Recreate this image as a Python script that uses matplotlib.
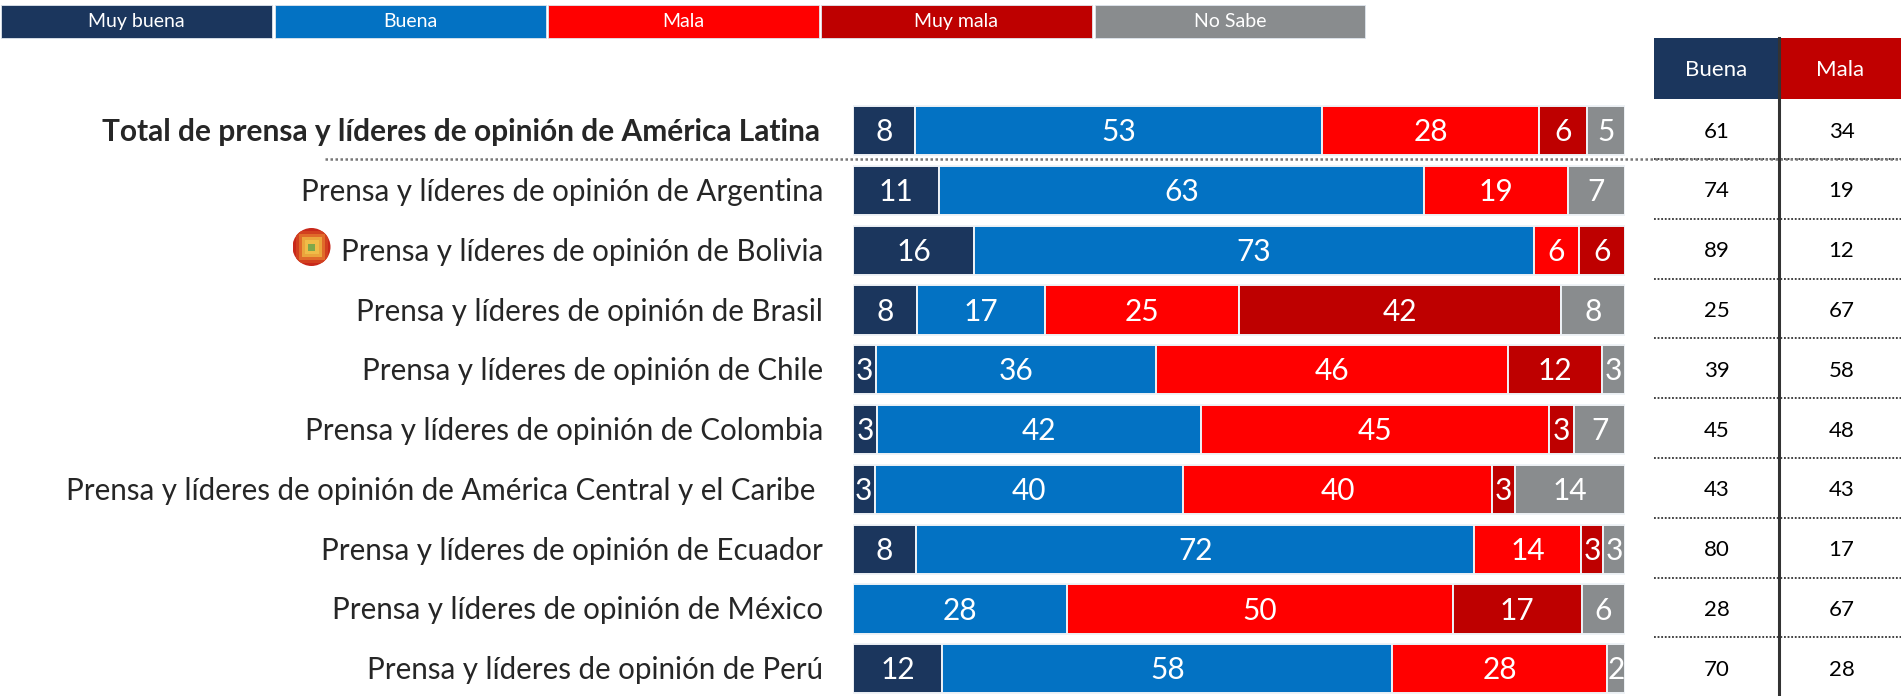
import matplotlib
matplotlib.use("Agg")
import matplotlib.pyplot as plt
from matplotlib.patches import Rectangle, Circle

plt.rcParams['font.family'] = ['Lato', 'DejaVu Sans']

W, H = 1901, 696

legend_labels = ["Muy buena", "Buena", "Mala", "Muy mala", "No Sabe"]
colors = ["#1B365D", "#0372C3", "#FF0000", "#BE0000", "#898C8E"]

rows = [
    "Total de prensa y líderes de opinión de América Latina",
    "Prensa y líderes de opinión de Argentina",
    "Prensa y líderes de opinión de Bolivia",
    "Prensa y líderes de opinión de Brasil",
    "Prensa y líderes de opinión de Chile",
    "Prensa y líderes de opinión de Colombia",
    "Prensa y líderes de opinión de América Central y el Caribe ",
    "Prensa y líderes de opinión de Ecuador",
    "Prensa y líderes de opinión de México",
    "Prensa y líderes de opinión de Perú",
]
# Values; the printed labels are their rounded form
muy_buena = [8.0, 11.2, 15.7, 8.3, 3.0, 3.1, 2.8, 8.2, 0, 11.6]
buena     = [52.8, 62.9, 72.6, 16.6, 36.3, 42.0, 40.0, 72.3, 27.7, 58.3]
mala      = [28.0, 18.6, 5.8, 25.2, 45.6, 45.1, 40.0, 13.8, 50.0, 27.9]
muy_mala  = [6.3, 0, 6.0, 41.7, 12.1, 3.3, 2.9, 2.9, 16.7, 0]
no_sabe   = [4.9, 7.4, 0, 8.3, 3.0, 6.6, 14.3, 2.8, 5.6, 2.3]
series = [muy_buena, buena, mala, muy_mala, no_sabe]

table_buena = [61, 74, 89, 25, 39, 45, 43, 80, 28, 70]
table_mala  = [34, 19, 12, 67, 58, 48, 43, 17, 67, 28]

fig = plt.figure(figsize=(W / 100, H / 100), dpi=100, facecolor="white")

# Pixel-space overlay for the legend strip, row labels and side table
ov = fig.add_axes([0, 0, 1, 1])
ov.set_xlim(0, W)
ov.set_ylim(H, 0)
ov.axis("off")

# Legend strip
leg_x = [(1, 272), (274.5, 546), (548, 819), (821, 1092), (1095, 1365)]
for (x0, x1), lab, c in zip(leg_x, legend_labels, colors):
    ov.add_patch(Rectangle((x0, 5), x1 - x0, 33, fc=c, ec="#dfe6ee", lw=0.6))
    ov.text((x0 + x1) / 2, 21.5, lab, color="white", fontsize=14, ha="center", va="center")

# Bars
row_h = 59.8
y_first = 130.6
top = y_first - row_h / 2
ax = fig.add_axes([853 / W, 0, (1625 - 853) / W, (H - top) / H])
ax.set_xlim(0, 100)
ax.set_ylim((H - y_first) / row_h, -0.5)
ax.axis("off")
ax.patch.set_alpha(0)
for i in range(len(rows)):
    total = sum(s[i] for s in series)
    left = 0.0
    for s, c in zip(series, colors):
        v = s[i]
        if v == 0:
            continue
        w = v / total * 100
        ax.barh(i, w, left=left, height=0.82, color=c, edgecolor="#eef2f6", linewidth=1.4)
        ax.text(left + w / 2, i - 0.015, str(round(v)), color="white", fontsize=21.5,
                ha="center", va="center_baseline")
        left += w

# Row labels
for i, r in enumerate(rows):
    y = y_first + i * row_h
    bold = i == 0
    ov.text(820 if bold else 823, y - 1, r, ha="right", va="center_baseline",
            fontsize=21.55 if bold else 21.25,
            fontweight="bold" if bold else "normal", color="#262626")

# Bolivia marker (concentric pixel rings clipped to a circle)
cx, cy, rad = 311.5, 247, 19
clip = Circle((cx, cy), rad, transform=ov.transData)
rings = [(19, "#C8281A"), (16, "#D2401F"), (13, "#E06A2A"), (10, "#EBA53C"), (7, "#F0BC48"), (3.5, "#7FA84A")]
for half, c in rings:
    p = Rectangle((cx - half, cy - half), 2 * half, 2 * half, fc=c, ec="none", zorder=3)
    ov.add_patch(p)
    p.set_clip_path(clip)

# Side table
tb_x0, tb_mid, tb_x1 = 1654, 1779, 1901
ov.add_patch(Rectangle((tb_x0, 38), tb_mid - tb_x0, 61, fc="#1B365D", ec="none"))
ov.add_patch(Rectangle((tb_mid, 38), tb_x1 - tb_mid, 61, fc="#C00000", ec="none"))
ov.text((tb_x0 + tb_mid) / 2, 70.5, "Buena", color="white", fontsize=16, ha="center", va="center")
ov.text((tb_mid + tb_x1) / 2, 70.5, "Mala", color="white", fontsize=16, ha="center", va="center")
for i, (a, b) in enumerate(zip(table_buena, table_mala)):
    y = y_first + i * row_h
    ov.text(1716.5, y - 1, str(a), fontsize=16, ha="center", va="center_baseline", color="black")
    ov.text(1841.5, y - 1, str(b), fontsize=16, ha="center", va="center_baseline", color="black")
    ly = 159 + i * row_h
    if ly < H - 5:
        ov.plot([tb_x0, tb_x1], [ly, ly], color="#333333", lw=1.3, ls=(0, (1, 1)), zorder=2)
ov.plot([325, tb_x1], [159, 159], color="#777777", lw=1.8, ls=(0, (1, 1)), zorder=2)
ov.plot([tb_mid, tb_mid], [38, H], color="#333333", lw=2.2, zorder=4)

fig.savefig("out.png", dpi=100)
